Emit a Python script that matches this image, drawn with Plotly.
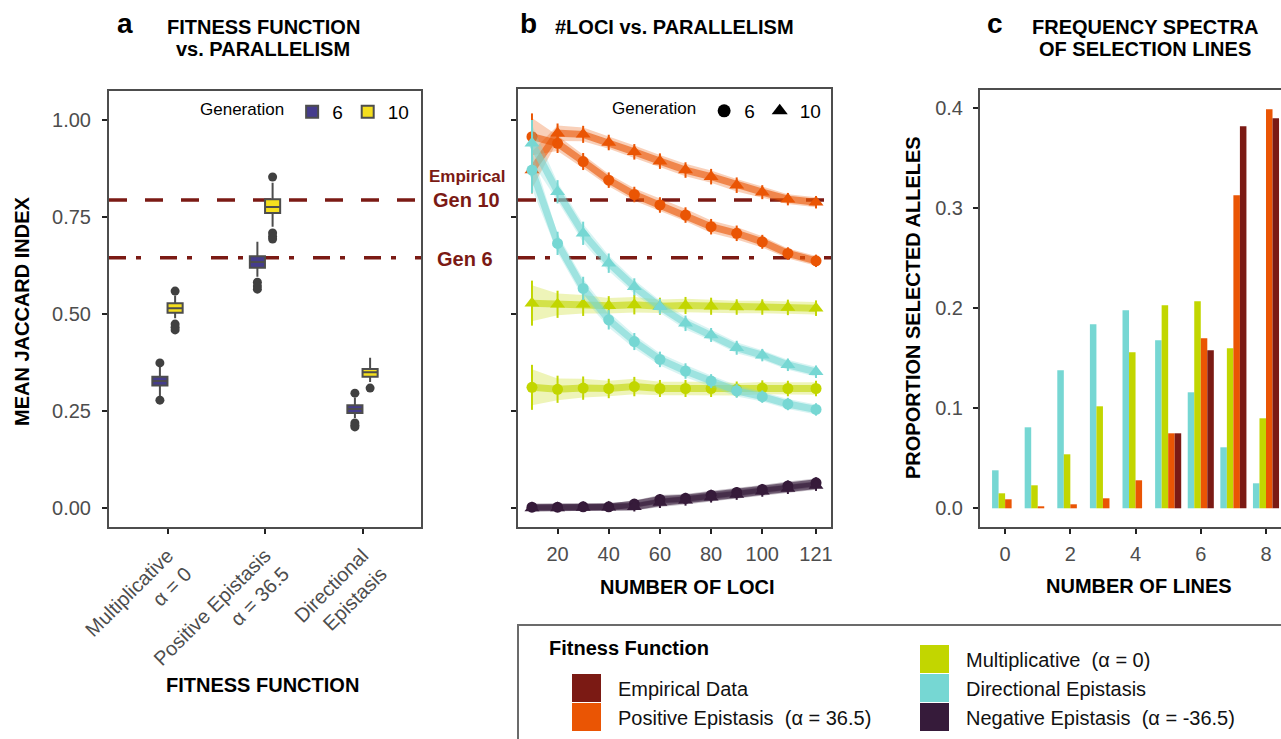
import plotly.graph_objects as go

W, H = 1281, 739
def fx(p): return p / W
def fy(p): return 1 - p / H

FONT = "Liberation Sans, Arial, Helvetica, sans-serif"
C_EMP = "#7B1A14"
C_POS = "#EA5504"
C_MUL = "#C2D600"
C_DIR = "#76D7D3"
C_NEG = "#361B3A"
C_G6 = "#453C8C"
C_G10 = "#F5DF1E"
C_AX = "#4D4D4D"

def rgba(hexc, a):
    h = hexc.lstrip("#")
    return "rgba(%d,%d,%d,%.3f)" % (int(h[0:2], 16), int(h[2:4], 16), int(h[4:6], 16), a)

# ---------------- Panel a data ----------------
FIT_LABELS = ["Multiplicative<br>α = 0", "Positive Epistasis<br>α = 36.5", "Directional<br>Epistasis"]
FIT_POS = [1, 2, 3]
G6_MED = [0.327, 0.634, 0.255]
G6_Q1 = [0.316, 0.619, 0.245]
G6_Q3 = [0.338, 0.649, 0.265]
G6_LOW = [0.288, 0.596, 0.232]
G6_UP = [0.366, 0.686, 0.284]
G6_OUT_CAT = [1, 1, 2, 2, 2, 3, 3, 3, 3]
G6_OUT_VAL = [0.374, 0.278, 0.582, 0.572, 0.564, 0.296, 0.219, 0.213, 0.209]
G10_MED = [0.515, 0.776, 0.350]
G10_Q1 = [0.503, 0.760, 0.338]
G10_Q3 = [0.528, 0.796, 0.358]
G10_LOW = [0.489, 0.725, 0.325]
G10_UP = [0.548, 0.838, 0.387]
G10_OUT_CAT = [1, 1, 1, 1, 2, 2, 2, 2, 3]
G10_OUT_VAL = [0.559, 0.474, 0.466, 0.459, 0.853, 0.709, 0.700, 0.693, 0.309]
EMP_GEN10 = 0.794
EMP_GEN6 = 0.645

# ---------------- Panel b data ----------------
LOCI = [10, 20, 30, 40, 50, 60, 70, 80, 90, 100, 110, 121]
POS_G6 = [0.957, 0.940, 0.893, 0.845, 0.808, 0.781, 0.755, 0.725, 0.708, 0.686, 0.656, 0.637]
POS_G10 = [0.871, 0.966, 0.963, 0.942, 0.918, 0.894, 0.871, 0.854, 0.832, 0.814, 0.796, 0.788]
DIR_G6 = [0.871, 0.682, 0.566, 0.485, 0.429, 0.383, 0.353, 0.327, 0.302, 0.287, 0.268, 0.254]
DIR_G10 = [0.940, 0.815, 0.708, 0.631, 0.570, 0.519, 0.476, 0.446, 0.413, 0.394, 0.369, 0.351]
MUL_G6 = [0.311, 0.306, 0.309, 0.308, 0.313, 0.308, 0.308, 0.308, 0.306, 0.309, 0.308, 0.308]
MUL_G10 = [0.528, 0.525, 0.525, 0.521, 0.524, 0.520, 0.522, 0.520, 0.518, 0.518, 0.517, 0.515]
NEG_G6 = [0.002, 0.002, 0.003, 0.003, 0.010, 0.022, 0.025, 0.033, 0.040, 0.048, 0.057, 0.065]
NEG_G10 = [0.000, 0.000, 0.001, 0.002, 0.003, 0.014, 0.020, 0.028, 0.035, 0.043, 0.050, 0.058]
ERR_POS = [0.060, 0.025, 0.022, 0.020, 0.020, 0.020, 0.020, 0.020, 0.020, 0.018, 0.016, 0.016]
ERR_DIR = [0.060, 0.030, 0.030, 0.025, 0.022, 0.020, 0.020, 0.018, 0.018, 0.016, 0.016, 0.016]
ERR_MUL = [0.058, 0.035, 0.030, 0.025, 0.025, 0.022, 0.022, 0.022, 0.020, 0.020, 0.020, 0.020]
ERR_NEG = [0.008, 0.008, 0.008, 0.010, 0.012, 0.014, 0.014, 0.014, 0.014, 0.014, 0.014, 0.014]

# ---------------- Panel c data ----------------
NUM_LINES = [0, 1, 2, 3, 4, 5, 6, 7, 8]
FREQ_DIR = [0.038, 0.081, 0.138, 0.184, 0.198, 0.168, 0.116, 0.061, 0.025]
FREQ_MUL = [0.015, 0.023, 0.054, 0.102, 0.156, 0.203, 0.207, 0.160, 0.090]
FREQ_POS = [0.009, 0.002, 0.004, 0.010, 0.028, 0.075, 0.170, 0.313, 0.399]
FREQ_EMP = [0.000, 0.000, 0.000, 0.000, 0.000, 0.075, 0.158, 0.382, 0.390]

fig = go.Figure()

# ---------- panel a: boxes ----------
DODGE = 0.078
for name, col, sign, q1, med, q3, lo, up, oc, ov in [
    ("6", C_G6, -1, G6_Q1, G6_MED, G6_Q3, G6_LOW, G6_UP, G6_OUT_CAT, G6_OUT_VAL),
    ("10", C_G10, 1, G10_Q1, G10_MED, G10_Q3, G10_LOW, G10_UP, G10_OUT_CAT, G10_OUT_VAL),
]:
    fig.add_trace(go.Box(
        x=[p + sign * DODGE for p in FIT_POS], q1=q1, median=med, q3=q3,
        lowerfence=lo, upperfence=up, orientation="v", width=0.155,
        fillcolor=col, line=dict(color=C_AX, width=2), whiskerwidth=0,
        boxpoints=False, name=name, legend="legend", xaxis="x", yaxis="y",
        hoverinfo="skip"))
    fig.add_trace(go.Scatter(
        x=[c + sign * DODGE for c in oc], y=ov, mode="markers",
        marker=dict(color="#404040", size=9), showlegend=False,
        xaxis="x", yaxis="y", hoverinfo="skip"))

# ---------- panel b: lines ----------
series = [
    (POS_G6, ERR_POS, C_POS, "circle"), (POS_G10, ERR_POS, C_POS, "triangle-up"),
    (MUL_G6, ERR_MUL, C_MUL, "circle"), (MUL_G10, ERR_MUL, C_MUL, "triangle-up"),
    (NEG_G6, ERR_NEG, C_NEG, "circle"), (NEG_G10, ERR_NEG, C_NEG, "triangle-up"),
    (DIR_G6, ERR_DIR, C_DIR, "circle"), (DIR_G10, ERR_DIR, C_DIR, "triangle-up"),
]
for vals, err, col, sym in series:
    band = [e * 0.8 for e in err]
    fig.add_trace(go.Scatter(x=LOCI, y=[v + b for v, b in zip(vals, band)], mode="lines",
                             line=dict(width=0, color=col), showlegend=False,
                             xaxis="x2", yaxis="y2", hoverinfo="skip"))
    fig.add_trace(go.Scatter(x=LOCI, y=[v - b for v, b in zip(vals, band)], mode="lines",
                             line=dict(width=0, color=col), fill="tonexty",
                             fillcolor=rgba(col, 0.28), showlegend=False,
                             xaxis="x2", yaxis="y2", hoverinfo="skip"))
    fig.add_trace(go.Scatter(
        x=LOCI, y=vals, mode="lines+markers",
        line=dict(color=rgba(col, 0.6), width=7),
        marker=dict(symbol=sym, color=col, size=11 if sym == "circle" else 13, line=dict(width=0)),
        error_y=dict(type="data", array=err, visible=True, color=col, thickness=2, width=0),
        showlegend=False, xaxis="x2", yaxis="y2", hoverinfo="skip"))

# legend dummies for panel b
fig.add_trace(go.Scatter(x=[None], y=[None], mode="markers", name="6",
                         marker=dict(symbol="circle", color="black", size=13),
                         legend="legend2", xaxis="x2", yaxis="y2"))
fig.add_trace(go.Scatter(x=[None], y=[None], mode="markers", name="10",
                         marker=dict(symbol="triangle-up", color="black", size=14),
                         legend="legend2", xaxis="x2", yaxis="y2"))

# ---------- panel c: bars ----------
for vals, col, name in [(FREQ_DIR, C_DIR, "Directional Epistasis"),
                        (FREQ_MUL, C_MUL, "Multiplicative"),
                        (FREQ_POS, C_POS, "Positive Epistasis"),
                        (FREQ_EMP, C_EMP, "Empirical Data")]:
    fig.add_trace(go.Bar(x=NUM_LINES, y=vals, marker=dict(color=col, line=dict(width=0)),
                         name=name, showlegend=False, xaxis="x3", yaxis="y3",
                         hoverinfo="skip"))

# ---------- axes ----------
def axis_common(standoff):
    return dict(showline=True, linecolor=C_AX, linewidth=2, mirror=True,
                ticks="outside", ticklen=5, tickwidth=2, tickcolor="#222222",
                showgrid=False, zeroline=False, ticklabelstandoff=standoff,
                automargin=False,
                tickfont=dict(family=FONT, size=20, color=C_AX))

layout_axes = dict(
    xaxis=dict(**axis_common(2), domain=[fx(109), fx(421)], range=[0.4, 3.6],
               tickvals=FIT_POS, ticktext=FIT_LABELS, tickangle=-45, anchor="y"),
    yaxis=dict(**axis_common(7), domain=[fy(527), fy(91)], range=[(508 - 527) / 388, (508 - 91) / 388],
               tickvals=[0, 0.25, 0.5, 0.75, 1.0], tickformat=".2f", anchor="x"),
    xaxis2=dict(**axis_common(3), domain=[fx(518), fx(831)],
                range=[10 - 14 / 2.565, 121 + 15 / 2.565],
                tickvals=[20, 40, 60, 80, 100, 121], anchor="y2"),
    yaxis2=dict(**axis_common(0), domain=[fy(527), fy(89)], range=[(508 - 527) / 388, (508 - 89) / 388],
                tickvals=[0, 0.25, 0.5, 0.75, 1.0], showticklabels=False, anchor="x2"),
    xaxis3=dict(**axis_common(3), domain=[fx(980), 1.0], range=[-0.77, 8.46],
                tickvals=[0, 2, 4, 6, 8], anchor="y3"),
    yaxis3=dict(**axis_common(6), domain=[fy(527), fy(90)], range=[-0.0187, 0.4183],
                tickvals=[0, 0.1, 0.2, 0.3, 0.4], tickformat=".1f", anchor="x3"),
)
layout_axes["yaxis3"]["mirror"] = False

shapes = []
for xr, yr in [("x domain", "y"), ("x2 domain", "y2")]:
    shapes.append(dict(type="line", xref=xr, yref=yr, x0=0, x1=1, y0=EMP_GEN10, y1=EMP_GEN10,
                       line=dict(color=C_EMP, width=3.5, dash="18px,18px"), layer="below"))
    shapes.append(dict(type="line", xref=xr, yref=yr, x0=0, x1=1, y0=EMP_GEN6, y1=EMP_GEN6,
                       line=dict(color=C_EMP, width=3.5, dash="17px,10px,5px,19px"), layer="below"))
# fitness legend frame
shapes.append(dict(type="rect", xref="paper", yref="paper", x0=fx(518), x1=fx(1300),
                   y0=fy(760), y1=fy(625), line=dict(color="#6b6b6b", width=2), fillcolor="rgba(0,0,0,0)"))

LEG_ITEMS = [
    ("Empirical Data", C_EMP, 572, 674),
    ("Positive Epistasis  (α = 36.5)", C_POS, 572, 703),
    ("Multiplicative  (α = 0)", C_MUL, 920, 645),
    ("Directional Epistasis", C_DIR, 920, 674),
    ("Negative Epistasis  (α = -36.5)", C_NEG, 920, 703),
]
annotations = []
for txt, col, lx, ly in LEG_ITEMS:
    shapes.append(dict(type="rect", xref="paper", yref="paper", x0=fx(lx), x1=fx(lx + 29),
                       y0=fy(ly + 28), y1=fy(ly), line=dict(width=0), fillcolor=col))
    annotations.append(dict(x=fx(lx + 44), y=fy(ly + 15), xref="paper", yref="paper",
                            text=txt, showarrow=False, xanchor="left", yanchor="middle",
                            font=dict(family=FONT, size=20, color="#111111")))

def ann(text, x, y, size=20, color="black", bold=True, xanchor="center", angle=0):
    annotations.append(dict(x=fx(x), y=fy(y), xref="paper", yref="paper",
                            text=("<b>%s</b>" % text) if bold else text, showarrow=False,
                            xanchor=xanchor, yanchor="middle", textangle=angle,
                            font=dict(family=FONT, size=size, color=color)))

ann("Fitness Function", 547, 648, size=20, xanchor="left")
ann("a", 125, 24, size=28)
ann("FITNESS FUNCTION", 263, 27)
ann("vs. PARALLELISM", 263, 49)
ann("b", 528, 24, size=28)
ann("#LOCI vs. PARALLELISM", 553, 27, xanchor="left")
ann("c", 995, 24, size=28)
ann("FREQUENCY SPECTRA", 1145, 27)
ann("OF SELECTION LINES", 1145, 49)
ann("MEAN JACCARD INDEX", 22, 311, angle=-90)
ann("FITNESS FUNCTION", 262, 685)
ann("NUMBER OF LOCI", 687, 587)
ann("NUMBER OF LINES", 1139, 586)
ann("PROPORTION SELECTED ALLELES", 913, 308, angle=-90)
ann("Empirical", 467, 177, size=17, color=C_EMP)
ann("Gen 10", 466, 200, color=C_EMP)
ann("Gen 6", 465, 259, color=C_EMP)

fig.update_layout(
    width=W, height=H, autosize=False,
    margin=dict(l=0, r=0, t=0, b=0, autoexpand=False),
    paper_bgcolor="white", plot_bgcolor="white",
    font=dict(family=FONT, color="black"),
    barmode="group", bargap=0.2, bargroupgap=0,
    shapes=shapes, annotations=annotations,
    legend=dict(x=fx(414), xanchor="right", y=fy(93), yanchor="top", orientation="h",
                traceorder="normal",
                title=dict(text="Generation", side="left", font=dict(size=17, family=FONT)),
                font=dict(size=19, family=FONT, color="black"), bgcolor="rgba(0,0,0,0)",
                itemwidth=30),
    legend2=dict(x=fx(826), xanchor="right", y=fy(92), yanchor="top", orientation="h",
                 traceorder="normal",
                 title=dict(text="Generation", side="left", font=dict(size=17, family=FONT)),
                 font=dict(size=19, family=FONT, color="black"), bgcolor="rgba(0,0,0,0)",
                 itemwidth=30),
    **layout_axes,
)

fig.write_html("out.html", config={"displayModeBar": False},
               post_script="document.body.style.margin='0px';")
